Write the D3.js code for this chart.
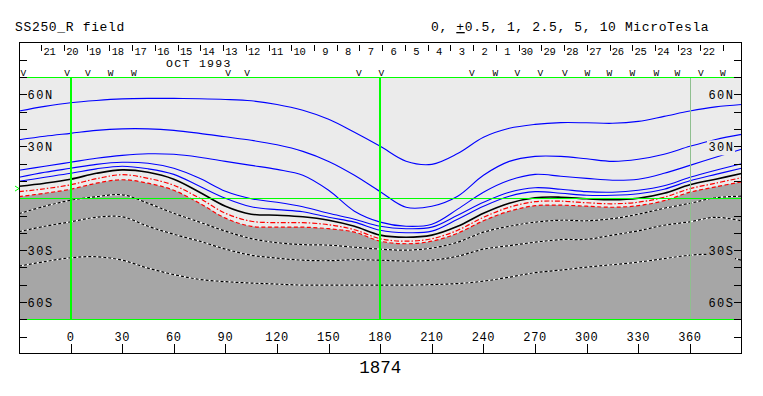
<!DOCTYPE html>
<html><head><meta charset="utf-8">
<script src="https://cdn.jsdelivr.net/npm/d3@7"></script>
<style>body{margin:0;background:#fff}svg{display:block}text{font-family:"Liberation Mono",monospace;fill:#000}</style>
</head><body><svg id="c" width="763" height="396"></svg>
<script>
// ---- data ----
const lons = [-30,-15,0,15,30,45,60,75,90,105,120,135,150,165,180,195,210,225,240,255,270,285,300,315,330,345,360,375,390];
// contour latitudes (deg) at each longitude
const pos10  = [50.4,53.1,55.2,56.5,57.4,57.7,57.7,57.5,57.1,56.3,54.2,50.8,45.6,38.1,30.0,21.4,19.6,25.8,35.2,40.4,42.7,43.7,43.6,43.3,44.4,47.3,50.4,52.8,54.2];
const pos5   = [33.8,35.8,37.5,39.2,40.1,40.1,39.2,37.5,35.5,33.5,30.9,27.1,21.3,13.3,3.8,-5.2,-4.6,1.2,13.3,21.3,24.2,24.2,22.8,21.3,22.5,25.4,30.0,34.0,36.9];
const pos2_5 = [16.2,18.5,20.8,23.1,24.8,25.7,25.4,23.7,21.3,19.0,16.7,13.3,4.6,-7.5,-13.8,-16.2,-15.0,-6.3,3.5,10.4,13.8,12.7,11.5,10.4,11.0,14.4,19.0,23.7,28.3];
const pos1   = [12.1,15.0,17.3,19.6,20.8,20.2,17.3,11.5,4.0,-0.3,-2.3,-4.9,-8.7,-12.1,-16.2,-17.6,-16.7,-9.8,-2.3,3.5,6.1,5.2,3.8,3.5,4.6,7.2,12.1,16.2,19.9];
const pos0_5 = [9.8,12.1,14.4,17.0,18.5,17.0,13.8,6.9,0.0,-4.9,-6.6,-7.8,-11.0,-13.8,-18.5,-19.9,-19.0,-12.1,-4.6,1.2,3.8,2.9,1.7,1.7,2.6,5.2,10.1,13.8,17.3];
const neutral= [6.9,8.7,11.0,14.4,16.4,15.0,11.0,3.5,-4.6,-9.2,-9.8,-10.7,-12.7,-16.2,-21.3,-22.5,-21.3,-16.2,-8.7,-2.9,0.3,0.6,-0.3,-0.9,0.0,2.9,7.8,11.0,14.3];
const neg0_5 = [3.8,5.5,7.8,11.3,13.6,11.5,7.5,0.0,-8.7,-13.3,-14.1,-14.1,-15.3,-18.2,-23.4,-24.8,-23.4,-18.5,-11.0,-5.2,-2.0,-1.7,-2.6,-3.2,-2.3,0.6,5.5,8.7,11.9];
const neg1   = [0.9,2.9,5.2,8.7,10.7,8.7,4.6,-2.9,-11.5,-16.2,-16.7,-16.7,-17.6,-19.6,-24.8,-26.3,-24.8,-20.2,-13.0,-7.5,-4.3,-4.0,-4.6,-5.2,-4.3,-1.4,3.5,6.6,9.5];
const neg2_5 = [-8.9,-4.6,-1.2,0.9,2.0,-2.9,-8.7,-13.8,-19.0,-23.3,-25.7,-26.8,-27.1,-28.3,-29.4,-30.0,-28.8,-25.4,-19.6,-16.2,-13.8,-12.7,-13.0,-11.8,-9.2,-5.8,-2.9,0.3,1.2];
const neg5   = [-19.3,-16.2,-13.6,-11.0,-10.7,-16.2,-20.8,-24.8,-29.4,-32.9,-34.6,-35.8,-36.1,-35.5,-35.8,-36.3,-35.8,-33.5,-29.4,-27.4,-25.4,-23.9,-23.7,-21.3,-18.8,-15.6,-13.6,-11.0,-13.0];
const neg10  = [-39.2,-36.6,-34.4,-33.8,-35.8,-40.4,-44.1,-46.9,-48.2,-49.0,-49.6,-50.2,-50.2,-50.2,-50.2,-50.2,-49.9,-49.3,-47.9,-45.6,-43.0,-41.5,-39.8,-38.4,-36.9,-34.9,-32.9,-32.6,-35.8];

const lonTicks = [0,30,60,90,120,150,180,210,240,270,300,330,360];
const latTicks = [-80,-70,-60,-50,-40,-30,-20,-10,10,20,30,40,50,60,70,80];
const latLabels = [[60,"60N"],[30,"30N"],[-30,"30S"],[-60,"60S"]];
const dayLabels = [21,20,19,18,17,16,15,14,13,12,11,10,9,8,7,6,5,4,3,2,1,30,29,28,27,26,25,24,23,22];
const dayTickLons = [-17.1,-3.9,9.3,22.6,35.8,49.0,62.2,75.4,88.6,101.8,115.1,128.3,141.5,154.7,167.9,181.1,194.3,207.6,220.8,234.0,247.2,260.4,273.6,286.8,300.1,313.3,326.5,339.7,352.9,366.1,379.4];
const obsMarks = [[-27.5,"V"],[-2.0,"V"],[10.0,"V"],[23.2,"W"],[36.7,"W"],[91.5,"V"],[102.6,"V"],[167.5,"V"],[180.6,"V"],
  [233.3,"V"],[246.9,"W"],[259.7,"V"],[273.1,"V"],[287.3,"V"],[300.4,"W"],[313.2,"W"],[326.5,"W"],[340.5,"W"],[352.7,"W"],[366.3,"V"],[379.1,"W"]];
const earthLat = 5.6;
const title = "SS250_R field";
const rotation = "1874";
const monthLabel = ["OCT 1993", 55.5];

// ---- drawing ----
const svg = d3.select("#c");
const x = d3.scaleLinear([-30,390],[19,741.5]);
const y = d3.scaleLinear([-90,90],[354,42.5]);
const LIGHT="#ebebeb", DARK="#a6a6a6", GREEN="#00ff00";
const px = v => Math.round(v) + 0.5;

svg.append("clipPath").attr("id","pc").append("rect")
  .attr("x",x(-30)).attr("y",y(70)).attr("width",x(390)-x(-30)).attr("height",y(-70)-y(70));
const g = svg.append("g").attr("clip-path","url(#pc)");
g.append("rect").attr("x",x(-30)).attr("y",y(70)).attr("width",x(390)-x(-30)).attr("height",y(-70)-y(70)).attr("fill",LIGHT);

const curve = d3.curveCatmullRom.alpha(0.5);
const line = d3.line().x((d,i)=>x(lons[i])).y(d=>y(d)).curve(curve);
const area = d3.area().x((d,i)=>x(lons[i])).y0(y(-75)).y1(d=>y(d)).curve(curve);
g.append("path").attr("d",area(neg1)).attr("fill",DARK);

[pos10,pos5,pos2_5,pos1,pos0_5].forEach(a=>g.append("path").attr("d",line(a)).attr("fill","none").attr("stroke","#0000ff").attr("stroke-width",1.1));
g.append("path").attr("d",line(neg0_5)).attr("fill","none").attr("stroke","#ff0000").attr("stroke-width",1.2).attr("stroke-dasharray","5,2,1.5,2");
g.append("path").attr("d",line(neg1)).attr("fill","none").attr("stroke","#ff0000").attr("stroke-width",1.2).attr("stroke-dasharray","4,2.5");
g.append("path").attr("d",line(neutral)).attr("fill","none").attr("stroke","#000").attr("stroke-width",1.6);
[neg2_5,neg5,neg10].forEach(a=>{
  g.append("path").attr("d",line(a)).attr("fill","none").attr("stroke","#fff").attr("stroke-width",1.2);
  g.append("path").attr("d",line(a)).attr("fill","none").attr("stroke","#000").attr("stroke-width",1.2).attr("stroke-dasharray","3,2");
});

// green grid
[0,180].forEach(l=>g.append("line").attr("x1",Math.round(x(l))).attr("x2",Math.round(x(l)))
  .attr("y1",y(70)).attr("y2",y(-70)).attr("stroke",GREEN).attr("stroke-width",2).attr("shape-rendering","crispEdges"));
g.append("line").attr("x1",px(x(360))).attr("x2",px(x(360))).attr("y1",y(70)).attr("y2",y(-70))
  .attr("stroke","#8fbf8f").attr("stroke-width",1).attr("shape-rendering","crispEdges");
[70,0,-70].forEach(l=>svg.append("line").attr("x1",x(-30)).attr("x2",x(390)).attr("y1",px(y(l))).attr("y2",px(y(l)))
  .attr("stroke",GREEN).attr("stroke-width",1.5).attr("shape-rendering","crispEdges"));

// latitude labels with background
latLabels.forEach(([lat,t])=>{
  const bg = lat>0?LIGHT:DARK;
  svg.append("rect").attr("x",26).attr("y",y(lat)-6).attr("width",28).attr("height",14).attr("fill",bg);
  svg.append("rect").attr("x",707).attr("y",y(lat)-6).attr("width",28).attr("height",15).attr("fill",bg);
  svg.append("text").attr("x",27.5).attr("y",y(lat)+4.5).attr("font-size",12).attr("letter-spacing",1.5).text(t);
  svg.append("text").attr("x",734.5).attr("y",y(lat)+4.5).attr("font-size",12).attr("letter-spacing",1.5).attr("text-anchor","end").text(t);
});

// frame
svg.append("rect").attr("x",19.5).attr("y",42.5).attr("width",722).attr("height",311).attr("fill","none").attr("stroke","#000").attr("stroke-width",1).attr("shape-rendering","crispEdges");
latTicks.forEach(l=>{
  svg.append("line").attr("x1",19.5).attr("x2",27).attr("y1",px(y(l))).attr("y2",px(y(l))).attr("stroke","#000").attr("stroke-width",1.2).attr("shape-rendering","crispEdges");
  svg.append("line").attr("x1",734).attr("x2",741.5).attr("y1",px(y(l))).attr("y2",px(y(l))).attr("stroke","#000").attr("stroke-width",1.2).attr("shape-rendering","crispEdges");
});
// earth latitude marker
const ey = y(earthLat);
svg.append("path").attr("d",`M15,${ey-2.5} L19,${ey} L15,${ey+2.5}`).attr("fill","none").attr("stroke",GREEN).attr("stroke-width",1);

// bottom axis
lonTicks.forEach(l=>{
  svg.append("line").attr("x1",px(x(l))).attr("x2",px(x(l))).attr("y1",353.5).attr("y2",343.5).attr("stroke","#000").attr("stroke-width",1).attr("shape-rendering","crispEdges");
  svg.append("text").attr("x",x(l)).attr("y",341).attr("font-size",12).attr("letter-spacing",0.6).attr("text-anchor","middle").text(l);
});
svg.append("text").attr("x",x(180)).attr("y",373).attr("font-size",17.5).attr("text-anchor","middle").text(rotation);

// top axis: days
dayTickLons.forEach(l=>svg.append("line").attr("x1",px(x(l))).attr("x2",px(x(l))).attr("y1",45).attr("y2",51).attr("stroke","#000").attr("stroke-width",1).attr("shape-rendering","crispEdges"));
dayLabels.forEach((d,i)=>svg.append("text").attr("x",x(dayTickLons[i])+2.3).attr("y",54.5).attr("font-size",10.5).attr("letter-spacing",-0.3).style("white-space","pre").text(String(d).padStart(2," ")));
svg.append("text").attr("x",x(monthLabel[1])).attr("y",66.5).attr("font-size",11.5).attr("letter-spacing",1.3).style("white-space","pre").text(monthLabel[0]);

// observation marks
obsMarks.forEach(([l,s])=>svg.append("text").attr("x",x(l)).attr("y",76).attr("font-size",9.5).attr("text-anchor","middle").text(s));

// titles
svg.append("text").attr("x",15).attr("y",31).attr("font-size",13).attr("letter-spacing",0.66).style("white-space","pre").text(title);
const rt = svg.append("text").attr("x",431).attr("y",31).attr("font-size",13).attr("letter-spacing",0.63).style("white-space","pre");
rt.append("tspan").text("0, ");
rt.append("tspan").style("text-decoration","underline").text("+");
rt.append("tspan").text("0.5, 1, 2.5, 5, 10 MicroTesla");
</script></body></html>
